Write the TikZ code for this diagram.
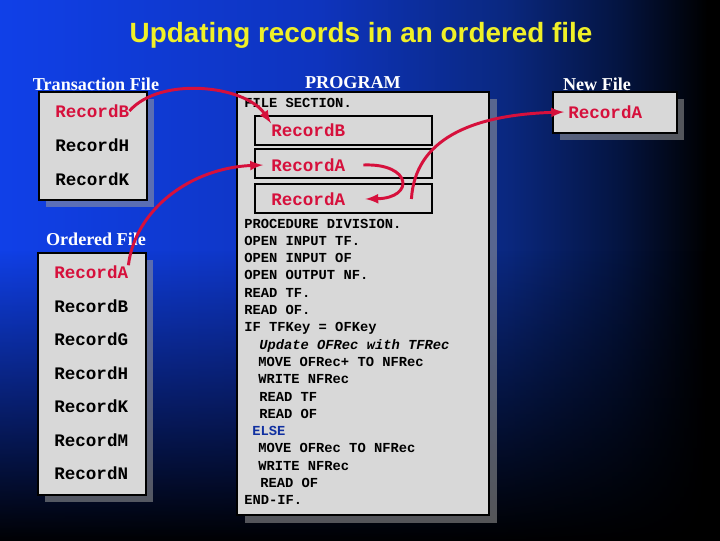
\documentclass[tikz,border=0pt]{standalone}
\usepackage{fontspec}
\setmainfont{Liberation Serif}
\setmonofont{Liberation Mono}
\newfontfamily\headfont{Liberation Sans}
\usetikzlibrary{fadings}
\definecolor{bgA}{RGB}{16,64,232}
\definecolor{bgB}{RGB}{14,52,190}
\definecolor{bgC}{RGB}{10,40,128}
\definecolor{bgD}{RGB}{4,20,64}
\definecolor{recred}{RGB}{214,16,60}
\definecolor{boxgray}{RGB}{216,216,216}
\definecolor{ttlyellow}{RGB}{240,240,40}
\definecolor{elseblue}{RGB}{16,48,160}
\pgfdeclarehorizontalshading{slidebg}{100bp}{color(0bp)=(bgA); color(25bp)=(bgA); color(47bp)=(bgB); color(60bp)=(bgC); color(68bp)=(bgD); color(74bp)=(black); color(100bp)=(black)}
\tikzfading[name=fadebottom, top color=transparent!100, bottom color=transparent!0]
\tikzset{lbl/.style={text=white,inner sep=0pt,font=\bfseries\fontsize{12.9}{14}\selectfont}}
\tikzset{rec/.style={anchor=west,inner sep=0pt,font=\ttfamily\bfseries\fontsize{12.5}{14}\selectfont}}
\tikzset{cd/.style={anchor=base west,inner sep=0pt,font=\ttfamily\bfseries\fontsize{9.8}{12}\selectfont}}
\tikzset{box/.style={draw=black,line width=1.5pt,fill=boxgray}}
\tikzset{shd/.style={fill=gray!80!white,opacity=.55}}
\tikzset{a/.style={recred,line width=2.1pt,->,>=latex}}

\begin{document}
\begin{tikzpicture}[x=0.025cm,y=-0.025cm]
  \useasboundingbox (0,0) rectangle (720,540);
  % background
  \shade[shading=slidebg] (-2,-2) rectangle (722,545);
  \fill[black,path fading=fadebottom] (-2,250) rectangle (722,545);

  \node[text=ttlyellow,font=\headfont\bfseries\fontsize{19.8}{22}\selectfont] (ttl) at (361,35) {Updating records in an ordered file};

  % transaction file
  \node[lbl] (tLbl) at (96,84) {Transaction File};
  \fill[shd] (46,99) rectangle (154,207);
  \draw[box] (39,92) rectangle (147,200);
  \node[rec,text=recred] (tB) at (55,111) {RecordB};
  \node[rec] (tH) at (55,145) {RecordH};
  \node[rec] (tK) at (55,179) {RecordK};

  % ordered file
  \node[lbl] (oLbl) at (96,239) {Ordered File};
  \fill[shd] (45,260) rectangle (153,502);
  \draw[box] (38,253) rectangle (146,495);
  \node[rec,text=recred] (oA) at (54,272) {RecordA};
  \foreach \r/\y in {B/306,G/339,H/373,K/406,M/440,N/473}
    \node[rec] (o\r) at (54,\y) {Record\r};

  % program
  \node[lbl] (pLbl) at (353,83) {PROGRAM};
  \fill[shd] (245,99) rectangle (497,523);
  \draw[box] (237,92) rectangle (489,515);
  \node[cd] (fs) at (244,107) {FILE SECTION.};
  \draw[box] (255,116) rectangle (432,145);
  \draw[box] (255,149) rectangle (432,178);
  \draw[box] (255,184) rectangle (432,213);
  \node[rec,text=recred] (pB) at (271,130) {RecordB};
  \node[rec,text=recred] (pA1) at (271,165) {RecordA};
  \node[rec,text=recred] (pA2) at (271,199) {RecordA};
  \foreach \i/\x/\t in {0/244/{PROCEDURE DIVISION.},1/244/{OPEN INPUT TF.},2/244/{OPEN INPUT OF},
      3/244/{OPEN OUTPUT NF.},4/244/{READ TF.},5/244/{READ OF.},6/244/{IF TFKey = OFKey},
      7/259/{\itshape Update OFRec with TFRec},8/258/{MOVE OFRec+ TO NFRec},9/258/{WRITE NFRec},
      10/259/{READ TF},11/259/{READ OF},12/252/{\color{elseblue}ELSE},13/258/{MOVE OFRec TO NFRec},
      14/258/{WRITE NFRec},15/260/{READ OF},16/244/{END-IF.}}
    \node[cd] (c\i) at (\x,228+17.3*\i) {\t};

  % new file
  \node[lbl] (nLbl) at (597,84) {New File};
  \fill[shd] (560,99) rectangle (684,140);
  \draw[box] (553,92) rectangle (677,133);
  \node[rec,text=recred] (nA) at (568,112) {RecordA};

  % arrows
  \draw[a] (tB.east) .. controls (160,76) and (245,85) .. (pB.north west);
  \draw[a] (oA.north east) .. controls (135,210) and (190,168) .. ([xshift=-0.2cm]pA1.west);
  \draw[a] ([xshift=0.45cm]pA1.east) .. controls (412,163) and (415,198) .. ([xshift=0.5cm]pA2.east);
  \draw[a] ([xshift=1.65cm]pA2.east) .. controls (415,140) and (470,115) .. ([xshift=-0.1cm]nA.west);
\end{tikzpicture}
\end{document}
